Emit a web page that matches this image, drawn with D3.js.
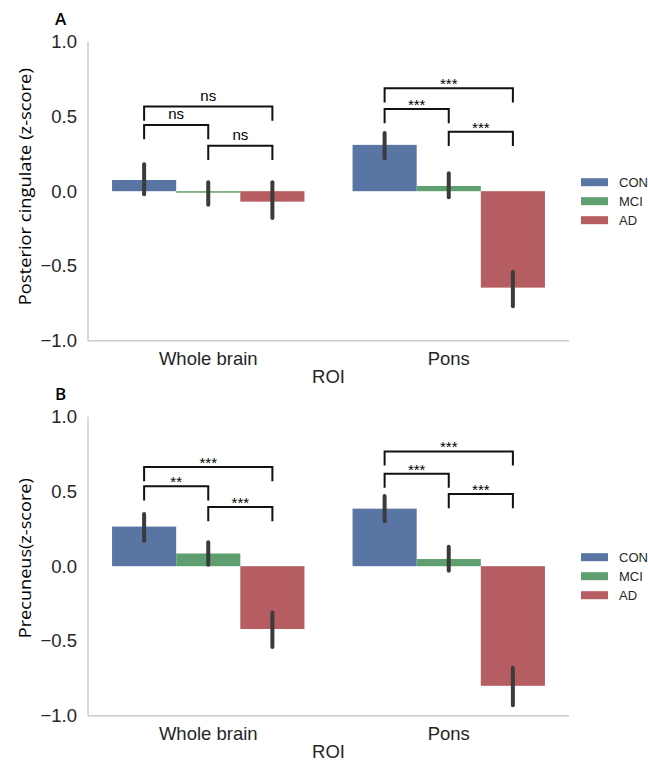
<!DOCTYPE html>
<html>
<head>
<meta charset="utf-8">
<script src="https://cdn.jsdelivr.net/npm/d3@7"></script>
<style>
  body { margin: 0; background: #fff; }
  .tick-label { font-family: 'Liberation Sans', Arial, sans-serif; font-size: 18.5px; fill: #262626; }
  .ylab { font-family: 'Open Sans', sans-serif; font-size: 17px; fill: #000; }
  .panel-letter { font-family: 'Open Sans', sans-serif; font-size: 17px; font-weight: 600; fill: #000; }
  .annot { font-family: 'Liberation Sans', Arial, sans-serif; font-size: 15px; fill: #000; }
  .legend-label { font-family: 'Liberation Sans', Arial, sans-serif; font-size: 13px; fill: #262626; }
</style>
</head>
<body>
<div class="chart"></div>
<script>
const width = 648;
const height = 763;

const groups = ['CON', 'MCI', 'AD'];
const rois = ['Whole brain', 'Pons'];
const yTicks = [1.0, 0.5, 0.0, -0.5, -1.0];
const colors = ['#5975a4', '#5f9e6e', '#b55d60'];

// panel A : posterior cingulate
const pcMeans = [[0.075, -0.01, -0.07], [0.31, 0.035, -0.645]];
const pcLow = [[-0.03, -0.10, -0.19], [0.21, -0.05, -0.78]];
const pcHigh = [[0.19, 0.07, 0.07], [0.40, 0.13, -0.53]];
// [roi, from, to, level, label]
const pcSig = [
  [0, 0, 2, 0.566, 'ns'], [0, 0, 1, 0.443, 'ns'], [0, 1, 2, 0.304, 'ns'],
  [1, 0, 2, 0.689, '***'], [1, 0, 1, 0.55, '***'], [1, 1, 2, 0.398, '***']
];

// panel B : precuneus
const prMeans = [[0.265, 0.085, -0.42], [0.385, 0.048, -0.80]];
const prLow = [[0.16, 0.0, -0.55], [0.29, -0.04, -0.94]];
const prHigh = [[0.36, 0.17, -0.30], [0.48, 0.14, -0.67]];
const prSig = [
  [0, 0, 2, 0.663, '***'], [0, 0, 1, 0.534, '**'], [0, 1, 2, 0.396, '***'],
  [1, 0, 2, 0.768, '***'], [1, 0, 1, 0.619, '***'], [1, 1, 2, 0.483, '***']
];

const tipLen = 0.095;

const svg = d3
  .select('.chart')
  .append('svg')
  .attr('width', width)
  .attr('height', height);

const left = 88;
const right = 569;

function drawPanel(top, letter, ylabel, labLen, labShift, means, low, high, sig) {
  const bottom = top + 299;
  const g = svg.append('g');

  const y = d3.scaleLinear().domain([-1, 1]).range([bottom, top]);
  const x0 = d3
    .scaleBand()
    .domain(rois)
    .range([left, right])
    .paddingInner(0.2)
    .paddingOuter(0.1);
  const x1 = d3.scaleBand().domain(groups).range([0, x0.bandwidth()]);
  const cx = (r, k) => x0(rois[r]) + x1(groups[k]) + x1.bandwidth() / 2;

  // axes lines (seaborn white style, no ticks)
  g.append('line')
    .attr('x1', left).attr('x2', left)
    .attr('y1', top).attr('y2', bottom)
    .attr('stroke', '#cccccc').attr('stroke-width', 1.5);
  g.append('line')
    .attr('x1', left).attr('x2', right)
    .attr('y1', bottom).attr('y2', bottom)
    .attr('stroke', '#cccccc').attr('stroke-width', 1.5);

  g.selectAll('.ytick')
    .data(yTicks)
    .enter()
    .append('text')
    .attr('class', 'tick-label')
    .attr('x', left - 11)
    .attr('y', d => y(d) + 6.5)
    .attr('text-anchor', 'end')
    .text(d => d3.format('.1f')(d).replace('-', '\u2212'));

  g.selectAll('.xtick')
    .data(rois)
    .enter()
    .append('text')
    .attr('class', 'tick-label')
    .attr('x', d => x0(d) + x0.bandwidth() / 2)
    .attr('y', bottom + 24)
    .attr('text-anchor', 'middle')
    .text(d => d);

  g.append('text')
    .attr('class', 'tick-label')
    .attr('x', (left + right) / 2)
    .attr('y', bottom + 42.5)
    .attr('text-anchor', 'middle')
    .text('ROI');

  g.append('text')
    .attr('class', 'ylab')
    .attr('transform', `translate(31, ${(top + bottom) / 2 + labShift}) rotate(-90)`)
    .attr('text-anchor', 'middle')
    .attr('textLength', labLen)
    .attr('lengthAdjust', 'spacingAndGlyphs')
    .text(ylabel);

  g.append('text')
    .attr('class', 'panel-letter')
    .attr('x', 55)
    .attr('y', top - 17)
    .text(letter);

  // bars
  const rows = [];
  means.forEach((vals, r) => {
    vals.forEach((v, k) => {
      rows.push({ r: r, k: k, v: v, lo: low[r][k], hi: high[r][k] });
    });
  });

  g.selectAll('.bar')
    .data(rows)
    .enter()
    .append('rect')
    .attr('class', 'bar')
    .attr('x', d => x0(rois[d.r]) + x1(groups[d.k]))
    .attr('width', x1.bandwidth())
    .attr('y', d => Math.min(y(d.v), y(0)))
    .attr('height', d => Math.max(Math.abs(y(d.v) - y(0)), 1))
    .attr('fill', d => colors[d.k]);

  g.selectAll('.err')
    .data(rows)
    .enter()
    .append('line')
    .attr('class', 'err')
    .attr('x1', d => cx(d.r, d.k))
    .attr('x2', d => cx(d.r, d.k))
    .attr('y1', d => y(d.hi) + 1.5)
    .attr('y2', d => y(d.lo) - 1.5)
    .attr('stroke', '#3b3b3b')
    .attr('stroke-width', 4)
    .attr('stroke-linecap', 'round');

  // significance brackets
  const br = g.selectAll('.sig').data(sig).enter().append('g');
  br.append('path')
    .attr('d', d => {
      const xa = cx(d[0], d[1]);
      const xb = cx(d[0], d[2]);
      const yt = y(d[3]);
      const yb = y(d[3] - tipLen);
      return `M${xa},${yb}V${yt}H${xb}V${yb}`;
    })
    .attr('fill', 'none')
    .attr('stroke', '#111')
    .attr('stroke-width', 2);
  br.append('text')
    .attr('class', 'annot')
    .attr('x', d => (cx(d[0], d[1]) + cx(d[0], d[2])) / 2)
    .attr('y', d => (d[4] === 'ns' ? y(d[3]) - 6 : y(d[3]) + 1))
    .attr('text-anchor', 'middle')
    .text(d => d[4]);

  // legend
  const lg = g.append('g');
  const ly = d3.scalePoint().domain(groups).range([0, 38]);
  const legTop = y(0) - 9;
  groups.forEach((name, k) => {
    lg.append('rect')
      .attr('x', 581)
      .attr('y', legTop + ly(name) - 4)
      .attr('width', 27)
      .attr('height', 8)
      .attr('fill', colors[k]);
    lg.append('text')
      .attr('class', 'legend-label')
      .attr('x', 619)
      .attr('y', legTop + ly(name) + 4.5)
      .text(name);
  });
}

drawPanel(41.7, 'A', 'Posterior cingulate (z-score)', 237, -4.5, pcMeans, pcLow, pcHigh, pcSig);
drawPanel(416.7, 'B', 'Precuneus(z-score)', 160, -8, prMeans, prLow, prHigh, prSig);
</script>
</body>
</html>
